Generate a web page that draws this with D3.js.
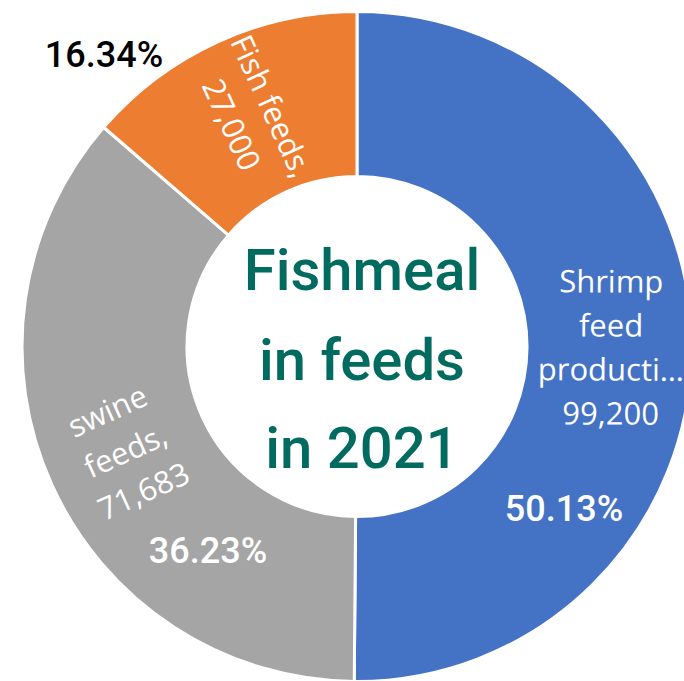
<!DOCTYPE html>
<html>
<head>
<meta charset="utf-8">
<script src="https://cdn.jsdelivr.net/npm/d3@7"></script>
<style>
  html, body { margin: 0; padding: 0; background: #fff; }
  svg { display: block; }
</style>
</head>
<body>
<svg id="chart" width="684" height="681"></svg>
<script>
// ---- data ----
const categories = ["Shrimp feed producti…", "swine feeds", "Fish feeds"];
const labelLines = [["Shrimp", "feed", "producti…", "99,200"], ["swine", "feeds,", "71,683"], ["Fish feeds,", "27,000"]];
const values = [99200, 71683, 27000];
const percentLabels = ["50.13%", "36.23%", "16.34%"];
const colors = ["#4472C4", "#A5A5A5", "#ED7D31"];
const titleLines = ["Fishmeal", "in feeds", "in 2021"];

// ---- layout ----
const svg = d3.select("#chart");
const cx = 357, cy = 346.5;
const outerR = 335, innerR = 170;

const pie = d3.pie().sort(null).value(d => d).startAngle(0).endAngle(2 * Math.PI);
const arcs = pie(values);
const arc = d3.arc().innerRadius(innerR).outerRadius(outerR);

const g = svg.append("g").attr("transform", `translate(${cx},${cy})`);

g.selectAll("path.slice")
  .data(arcs)
  .join("path")
  .attr("class", "slice")
  .attr("d", arc)
  .attr("fill", (d, i) => colors[i])
  .attr("stroke", "#fff")
  .attr("stroke-width", 3);

// category labels, oriented along the radius
const labelArc = d3.arc().innerRadius(254).outerRadius(254);
const labelFont = "'Open Sans', 'Noto Sans', sans-serif";
const lineH = 44;
arcs.forEach((d, i) => {
  const [x, y] = labelArc.centroid(d);
  const mid = (d.startAngle + d.endAngle) / 2;
  let rot = Math.atan2(Math.cos(mid), -Math.sin(mid)) * 180 / Math.PI;
  if (rot > 90.5) rot -= 180;
  if (rot < -90.5) rot += 180;
  const lines = labelLines[i];
  const t = g.append("text")
    .attr("transform", `translate(${x},${y}) rotate(${rot})`)
    .attr("text-anchor", "middle")
    .attr("font-family", labelFont)
    .attr("font-size", 31)
    .attr("fill", "#fff");
  lines.forEach((ln, k) => {
    t.append("tspan")
      .attr("x", 0)
      .attr("y", (k - (lines.length - 1) / 2) * lineH + 11)
      .text(ln);
  });
});

// percentage labels
const pctPos = [[564, 521], [208, 563], [104, 67]];
const pctColor = ["#fff", "#fff", "#000"];
percentLabels.forEach((p, i) => {
  svg.append("text")
    .attr("x", pctPos[i][0])
    .attr("y", pctPos[i][1])
    .attr("text-anchor", "middle")
    .attr("font-family", "Roboto, 'Noto Sans', sans-serif")
    .attr("font-weight", 500)
    .attr("font-size", 36)
    .attr("fill", pctColor[i])
    .text(p);
});

// center title
const titleBase = [290, 380, 468];
titleLines.forEach((ln, i) => {
  svg.append("text")
    .attr("x", 362)
    .attr("y", titleBase[i])
    .attr("text-anchor", "middle")
    .attr("font-family", "Roboto, 'Noto Sans', sans-serif")
    .attr("font-weight", 500)
    .attr("font-size", 58)
    .attr("fill", "#026B5F")
    .text(ln);
});
</script>
</body>
</html>
